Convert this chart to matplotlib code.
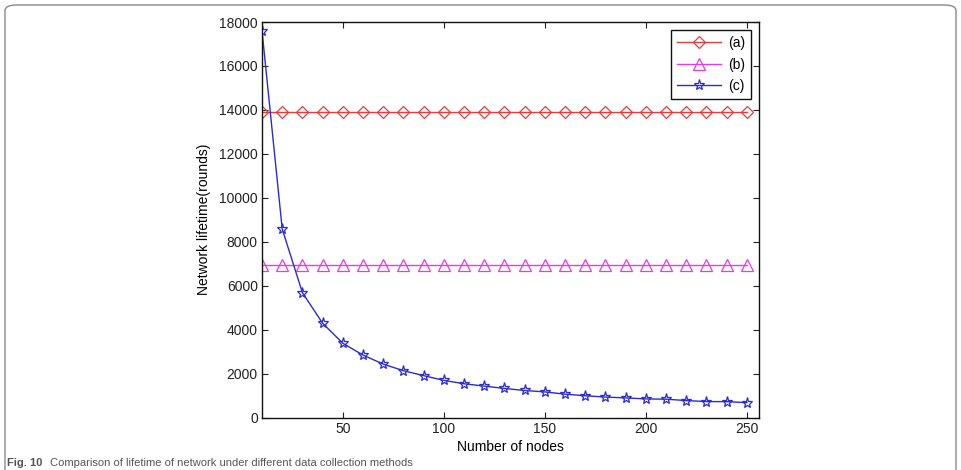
import matplotlib
matplotlib.use("Agg")
import matplotlib.pyplot as plt
from matplotlib.patches import FancyBboxPatch

plt.rcParams['font.family'] = ['Liberation Sans', 'DejaVu Sans']

nodes = list(range(10, 251, 10))
series_a = [13900] * 25
series_b = [6950] * 25
series_c = [17600, 8580, 5680, 4290, 3380, 2840, 2430, 2130, 1905, 1690,
            1535, 1430, 1322, 1230, 1165, 1062, 990, 930, 892, 845,
            834, 770, 725, 722, 675]
labels = ['(a)', '(b)', '(c)']
x_ticks = [50, 100, 150, 200, 250]
y_ticks = list(range(0, 18001, 2000))

W, H = 961, 470
fig = plt.figure(figsize=(W / 100, H / 100), dpi=100)

def fx(px):
    return px / W

def fy(py):
    return 1 - py / H

# border
border = FancyBboxPatch((fx(5), fy(520)), fx(951), (520 - 5) / H,
                        boxstyle="round,pad=0,rounding_size=0.012",
                        transform=fig.transFigure, fill=False,
                        edgecolor='#8a8a8a', linewidth=1.0)
fig.patches.append(border)

ax = fig.add_axes([fx(262), fy(417.5), fx(759 - 262), (417.5 - 22) / H])

ax.plot(nodes, series_a, color='#e43c3c', lw=1.0, marker='D', markersize=6.5,
        markerfacecolor='none', markeredgecolor='#e43c3c', markeredgewidth=0.9,
        label=labels[0])
ax.plot(nodes, series_b, color='#e23ce2', lw=1.0, marker='^', markersize=8,
        markerfacecolor='none', markeredgecolor='#e23ce2', markeredgewidth=0.9,
        label=labels[1])
ax.plot(nodes, series_c, color='#2a2ad8', lw=1.0, marker='*', markersize=8,
        markerfacecolor='none', markeredgecolor='#2a2ad8', markeredgewidth=0.9,
        label=labels[2])

ax.set_xlim(10, 256)
ax.set_ylim(0, 18000)
ax.set_xticks(x_ticks)
ax.set_yticks(y_ticks)
ax.tick_params(direction='in', length=4, width=0.8, top=True, right=True,
               labelsize=10, colors='#222222', pad=3)
for s in ax.spines.values():
    s.set_linewidth(1.0)
    s.set_color('#111111')

ax.set_xlabel('Number of nodes', fontsize=10, labelpad=3)
ax.set_ylabel('Network lifetime(rounds)', fontsize=10, labelpad=6)

leg = ax.legend(loc='upper right', numpoints=1, fontsize=10, fancybox=False,
                edgecolor='#111111', framealpha=1, handlelength=3.2,
                borderaxespad=0.6, labelspacing=0.55, handletextpad=0.5)
leg.get_frame().set_linewidth(1.0)

fig.text(fx(7), fy(468), 'Fig. 10', fontsize=8, fontweight='bold',
         color='#555555', va='bottom', ha='left')
fig.text(fx(50), fy(468), 'Comparison of lifetime of network under different data collection methods',
         fontsize=8, color='#555555', va='bottom', ha='left')

fig.savefig('out.png', dpi=100)
